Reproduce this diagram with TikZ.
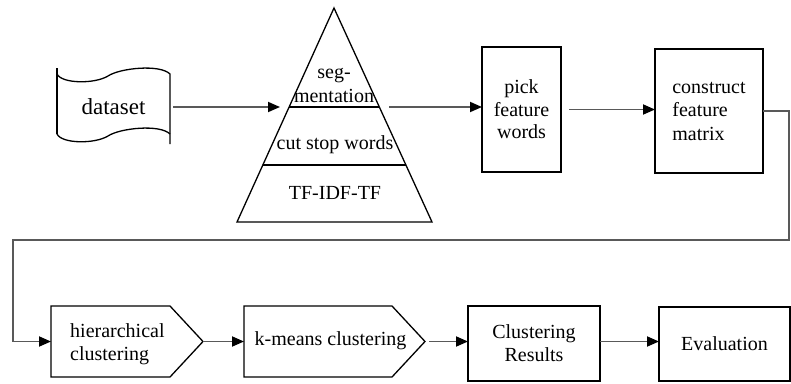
\documentclass[tikz,border=0pt]{standalone}
\usepackage{fontspec}
\setmainfont{Liberation Serif}
\usetikzlibrary{arrows.meta,calc}
\begin{document}
\begin{tikzpicture}[x=1pt,y=-1pt,
  shapeline/.style={draw=black, line width=1.3pt, line join=miter},
  conn/.style={draw=black!65, line width=1.8pt, -{Triangle[length=12pt,width=10pt,color=black]}},
  txt/.style={font=\fontsize{20}{23.5}\selectfont, inner sep=0pt, align=center},
  ghost/.style={inner sep=0pt, outer sep=0pt},
  boxnode/.style={draw=black, line width=1.3pt, inner sep=0pt, outer sep=0pt, align=center, font=\fontsize{20}{23}\selectfont}
]
\useasboundingbox (0,0) rectangle (791,383);

% dataset (tape shape)
\node[ghost, minimum width=113pt, minimum height=76pt, font=\fontsize{23}{27}\selectfont] (dataset) at (113.5,107) {dataset};
\draw[shapeline] (57,68) -- (57,134);
\draw[shapeline] (57,74) .. controls (62,84) and (95,84) .. (108,76) .. controls (120,68) and (160,64) .. (170,74) -- (170,144);
\draw[shapeline] (57,134) .. controls (62,144) and (95,144) .. (108,136) .. controls (120,128) and (160,124) .. (170,134);

% pyramid
\coordinate (apex) at (334,8);
\coordinate (bl) at (237,222);
\coordinate (br) at (432,222);
\draw[shapeline] (apex) -- (br) -- (bl) -- cycle;
\draw[shapeline] ($(apex)!0.4626!(bl)$) -- ($(apex)!0.4626!(br)$);
\draw[shapeline] ($(apex)!0.7336!(bl)$) -- ($(apex)!0.7336!(br)$);
\node[txt, font=\fontsize{20}{24}\selectfont] (seg) at (334,85) {seg-\\mentation};
\node[txt] (stop) at (335,145) {cut stop words};
\node[txt] (tfidf) at (335,193) {TF-IDF-TF};
\coordinate (triIn) at (280,107);
\coordinate (triOut) at (380,107);

% top boxes
\node[boxnode, font=\fontsize{20}{22.5}\selectfont, minimum width=79pt, minimum height=125pt] (pick) at (521.5,109.5) {pick\\feature\\words};
\node[boxnode, font=\fontsize{20}{23.5}\selectfont, align=left, minimum width=108pt, minimum height=124pt] (construct) at (709,111) {construct\\feature\\matrix};

% bottom shapes
\node[ghost, minimum width=152pt, minimum height=71pt] (hier) at (127,341.5) {};
\draw[shapeline] (hier.north west) -- ++(119,0) -- (hier.east) -- ($(hier.south west)+(119,0)$) -- (hier.south west) -- cycle;
\node[txt, align=left, anchor=west] (hiertxt) at (70,344) {hierarchical\\clustering};

\node[ghost, minimum width=181pt, minimum height=71pt] (kmeans) at (334.5,341.5) {};
\draw[shapeline] (kmeans.north west) -- ++(148,0) -- (kmeans.east) -- ($(kmeans.south west)+(148,0)$) -- (kmeans.south west) -- cycle;
\node[txt] (kmtxt) at (330.5,341) {k-means clustering};

\node[boxnode, minimum width=132pt, minimum height=75pt] (results) at (534,343.5) {Clustering\\Results};
\node[boxnode, minimum width=131pt, minimum height=74pt] (eval) at (724.5,344) {Evaluation};

% connectors
\draw[conn, shorten <=3pt] (dataset.east) -- (triIn);
\draw[conn, shorten <=9pt] (triOut) -- (triOut -| pick.west);
\draw[conn, shorten <=8pt] (pick.east) -- (construct.west |- pick.east);
\coordinate (loopR) at (789,240);
\coordinate (loopL) at (13,240);
\draw[conn] (construct.east) -| (loopR) -- (loopL) |- (hier.west);
\draw[conn] (hier.east) -- (kmeans.west);
\draw[conn, shorten <=4pt] (kmeans.east) -- (kmeans.east -| results.west);
\draw[conn] (results.west |- kmeans.east) ++(132,0) -- (eval.west |- kmeans.east);
\end{tikzpicture}
\end{document}
